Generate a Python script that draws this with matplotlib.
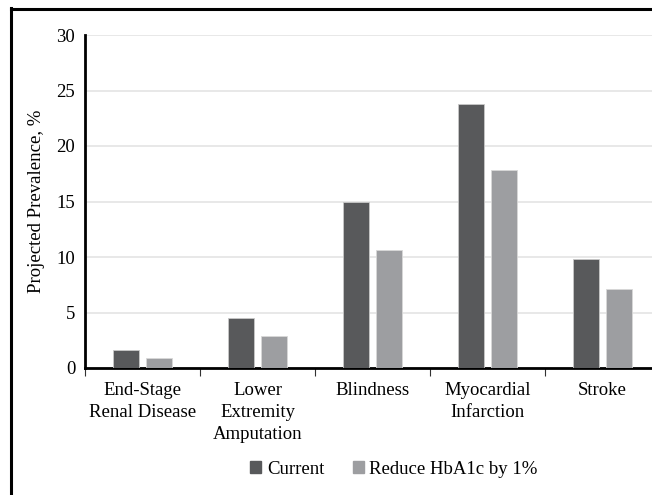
import numpy as np
import matplotlib
matplotlib.use("Agg")
import matplotlib.pyplot as plt
from matplotlib.lines import Line2D
from matplotlib.patches import Patch

categories = ["End-Stage\nRenal Disease", "Lower\nExtremity\nAmputation",
              "Blindness", "Myocardial\nInfarction", "Stroke"]
current = [1.6, 4.5, 15.0, 23.8, 9.8]
reduced = [0.9, 2.9, 10.6, 17.8, 7.1]
series_names = ["Current", "Reduce HbA1c by 1%"]
yticks = [0, 5, 10, 15, 20, 25, 30]

dark = "#58595b"
light = "#9d9ea1"
fs = 13.5

plt.rcParams['font.family'] = ['Liberation Serif', 'DejaVu Serif']

fig = plt.figure(figsize=(6.52, 4.95), dpi=100)
# axes spans x 85..660 px (clipped at 652), y 35..368 px
W, H = 652.0, 495.0
ax = fig.add_axes([85 / W, (H - 368) / H, (652 - 85) / W, (368 - 35) / H])

x = np.arange(len(categories)) + 0.5
bw = 0.226
off = 0.143
ax.bar(x - off, current, width=bw, color=dark, edgecolor="#c8c8c8", linewidth=0.6, zorder=3)
ax.bar(x + off, reduced, width=bw, color=light, edgecolor="#d8d8d8", linewidth=0.6, zorder=3)

ax.set_ylim(0, 30)
ax.set_xlim(0, 5 * (652 - 85) / (660 - 85))
ax.set_yticks(yticks)
ax.set_yticklabels([str(v) for v in yticks], fontsize=fs)
ax.tick_params(axis='y', length=0, pad=7)
ax.yaxis.grid(True, color="#e4e4e4", linewidth=1.2, zorder=0)
ax.set_axisbelow(True)

ax.set_xticks(np.arange(0, 5))
ax.set_xticklabels([])
ax.set_xticks(x, minor=True)
ax.set_xticklabels(categories, minor=True, fontsize=fs, linespacing=1.38, va='top')
ax.tick_params(axis='x', which='major', length=6, width=0.8, color="#333333")
ax.tick_params(axis='x', which='minor', length=0, pad=10)

for s in ["top", "right"]:
    ax.spines[s].set_visible(False)
ax.spines["left"].set_linewidth(2)
ax.spines["bottom"].set_linewidth(2)

ax.set_ylabel("Projected Prevalence, %", fontsize=fs, labelpad=8)

handles = [Patch(color=dark), Patch(color=light)]
fig.legend(handles, series_names, loc="center", bbox_to_anchor=(394 / W, 1 - 469 / H),
           ncol=2, frameon=False, fontsize=fs, handlelength=0.6, handleheight=0.6,
           handletextpad=0.3, columnspacing=1.5)

# outer frame (left and top only, cropped)
fig.add_artist(Line2D([11 / W, 11 / W], [0, 1 - 8 / H], transform=fig.transFigure,
                      color="black", linewidth=2.2))
fig.add_artist(Line2D([11 / W, 1], [1 - 9 / H, 1 - 9 / H], transform=fig.transFigure,
                      color="black", linewidth=2.2))

fig.savefig("out.png", dpi=100)
